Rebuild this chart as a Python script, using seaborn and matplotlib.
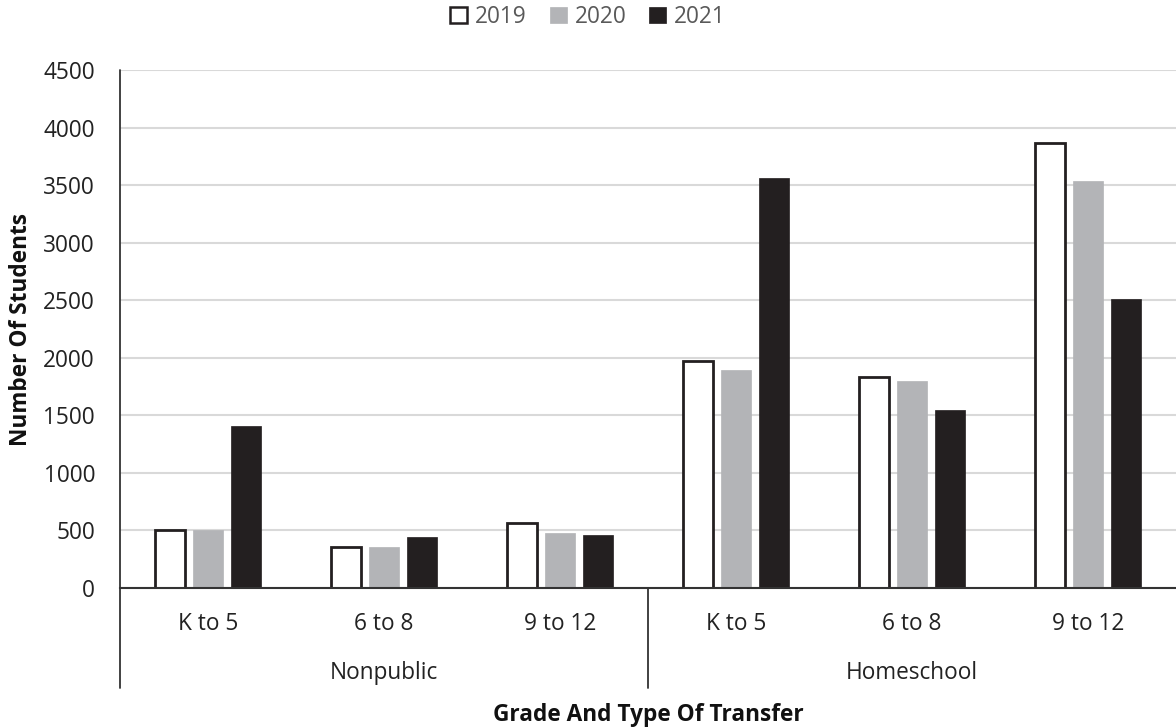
import numpy as np
import pandas as pd
import matplotlib
matplotlib.use("Agg")
import matplotlib.pyplot as plt
import matplotlib.transforms as mtransforms
from matplotlib.patches import Patch
import seaborn as sns

# ---- data ----
groups = ["Nonpublic", "Homeschool"]
grades = ["K to 5", "6 to 8", "9 to 12"]
years = ["2019", "2020", "2021"]
values_2019 = [505, 360, 567, 1968, 1837, 3866]
values_2020 = [503, 352, 479, 1896, 1794, 3539]
values_2021 = [1405, 447, 458, 3559, 1550, 2510]
colors = {"2019": "#ffffff", "2020": "#b3b4b7", "2021": "#231f20"}

cats = [f"{g}|{gr}" for g in groups for gr in grades]
rows = []
for yr, vals in zip(years, [values_2019, values_2020, values_2021]):
    for c, v in zip(cats, vals):
        rows.append({"cat": c, "year": yr, "value": v})
df = pd.DataFrame(rows)

sns.set_theme(style="white")
plt.rcParams["font.family"] = ["Open Sans", "DejaVu Sans"]

FS = 16.3
LFS = 16.3
fig = plt.figure(figsize=(11.76, 7.28), dpi=100)
ax = fig.add_axes([120 / 1176, 1 - 588 / 728, (1176 - 120) / 1176, (588 - 70) / 728])

sns.barplot(data=df, x="cat", y="value", hue="year", order=cats, hue_order=years,
            palette=colors, width=0.646, gap=0.21, ax=ax, legend=False,
            saturation=1, linewidth=0, edgecolor="none")

# style bars
for cont, yr in zip(ax.containers, years):
    for p in cont:
        if yr == "2019":
            p.set_edgecolor("#231f20")
            p.set_linewidth(2.0)
        else:
            p.set_edgecolor(colors[yr])
            p.set_linewidth(0.5)

ax.set_xlim(-0.5, 5.5)
ax.set_ylim(0, 4500)
ax.set_yticks(np.arange(0, 4501, 500))
ax.set_yticklabels([str(v) for v in range(0, 4501, 500)], fontsize=FS, color="#222222")
ax.yaxis.grid(True, color="#d9d9d9", linewidth=1.5)
ax.set_axisbelow(True)
ax.tick_params(axis="y", length=0, pad=18)
ax.tick_params(axis="x", length=0, pad=17)
ax.set_xticks(range(6))
ax.set_xticklabels([gr for g in groups for gr in grades], fontsize=FS, color="#222222")

for s in ["top", "right"]:
    ax.spines[s].set_visible(False)
ax.spines["bottom"].set_color("#333333")
ax.spines["bottom"].set_linewidth(1.5)
ax.spines["left"].set_visible(False)

ax.set_ylabel("Number Of Students", fontsize=LFS, fontweight="bold", color="#111111")
ax.yaxis.set_label_coords(-(120 - 33) / 1056, 0.5)
ax.set_xlabel("Grade And Type Of Transfer", fontsize=LFS, fontweight="bold", color="#111111")
ax.xaxis.set_label_coords(0.5, -(715 - 588) / 518)
ax.xaxis.label.set_va("center")

# group separators and labels below
trans = mtransforms.blended_transform_factory(ax.transData, ax.transAxes)
ax_h = 518
bottom_frac = -(688 - 588) / ax_h
for xpos in [-0.5, 2.5]:
    ax.plot([xpos, xpos], [1.0 if xpos == -0.5 else 0, bottom_frac], transform=trans,
            color="#333333", linewidth=1.3, clip_on=False)
for i, g in enumerate(groups):
    ax.text(1 + 3 * i, -(673 - 588) / ax_h, g, transform=trans, ha="center", va="center",
            fontsize=FS, color="#222222")

handles = [Patch(facecolor=colors[y], edgecolor="#231f20" if y == "2019" else colors[y],
                 linewidth=1.8 if y == "2019" else 0.5, label=y) for y in years]
leg = fig.legend(handles=handles, loc="center", bbox_to_anchor=(0.5, 1 - 17 / 728), ncol=3,
                 frameon=False, fontsize=FS, handlelength=0.75, handleheight=0.75,
                 handletextpad=0.35, columnspacing=1.0)
for t in leg.get_texts():
    t.set_color("#595959")

fig.savefig("out.png", dpi=100)
